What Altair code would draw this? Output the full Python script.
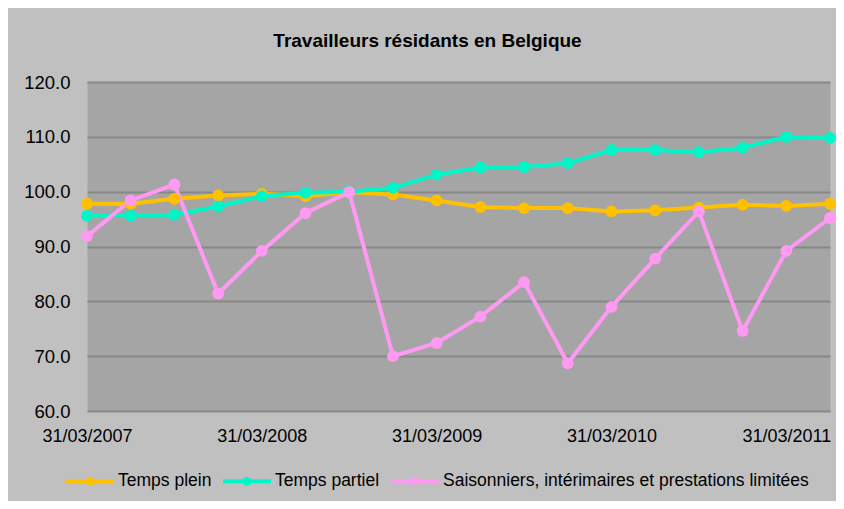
import altair as alt
import pandas as pd

quarters = ["31/03/2007", "30/06/2007", "30/09/2007", "31/12/2007",
            "31/03/2008", "30/06/2008", "30/09/2008", "31/12/2008",
            "31/03/2009", "30/06/2009", "30/09/2009", "31/12/2009",
            "31/03/2010", "30/06/2010", "30/09/2010", "31/12/2010",
            "31/03/2011", "30/06/2011"]
series_names = ["Temps plein", "Temps partiel",
                "Saisonniers, intérimaires et prestations limitées"]
temps_plein = [97.8, 97.8, 98.7, 99.3, 99.6, 99.2, 99.9, 99.5, 98.4,
               97.2, 97.0, 97.0, 96.4, 96.6, 97.1, 97.6, 97.4, 97.8]
temps_partiel = [95.6, 95.6, 95.8, 97.3, 99.2, 99.8, 100.0, 100.7, 103.1,
                 104.4, 104.5, 105.2, 107.6, 107.6, 107.2, 108.0, 110.0, 109.8]
saisonniers = [91.9, 98.4, 101.3, 81.4, 89.2, 96.1, 99.9, 70.0, 72.4,
               77.2, 83.5, 68.7, 79.0, 87.8, 96.4, 74.6, 89.2, 95.2]
colors = ["#FFC000", "#00F5C8", "#FF99F2"]
y_ticks = [60, 70, 80, 90, 100, 110, 120]
x_tick_index = [0, 4, 8, 12, 16]
title_text = "Travailleurs résidants en Belgique"

rows = []
for order, (name, vals) in enumerate(zip(series_names, [temps_plein, temps_partiel, saisonniers])):
    for i, v in enumerate(vals):
        rows.append({"idx": i, "date": quarters[i], "serie": name, "valeur": v, "ordre": order})
df = pd.DataFrame(rows)

label_array = "[" + ",".join("'" + q + "'" for q in quarters) + "]"

label_font = "Liberation Sans, Arial, sans-serif"

legend_symbol = "M-1,0H1M-0.1,0A0.1,0.1,0,1,1,0.1,0A0.1,0.1,0,1,1,-0.1,0"

chart = alt.Chart(df).mark_line(
    strokeWidth=4,
    point=alt.OverlayMarkDef(size=140, filled=True, opacity=1),
).encode(
    x=alt.X("idx:Q",
            scale=alt.Scale(domain=[0, len(quarters) - 1], nice=False, zero=False),
            axis=alt.Axis(title=None, values=x_tick_index, grid=False, domain=False,
                          ticks=False, labelPadding=16, labelFlush=False,
                          labelOverlap=False, labelFontSize=18,
                          labelExpr=label_array + "[datum.value]")),
    y=alt.Y("valeur:Q",
            scale=alt.Scale(domain=[60, 120], nice=False, zero=False),
            axis=alt.Axis(title=None, values=y_ticks, format=".1f", grid=True,
                          domain=False, ticks=False, labelPadding=17,
                          labelFontSize=18.5)),
    color=alt.Color("serie:N",
                    scale=alt.Scale(domain=series_names, range=colors),
                    legend=alt.Legend(title=None, orient="none", direction="horizontal",
                                      legendX=-23, legendY=373,
                                      symbolType=legend_symbol, symbolSize=2304,
                                      symbolStrokeWidth=4, labelOffset=2,
                                      columnPadding=3, labelLimit=600, padding=0)),
    order=alt.Order("idx:Q"),
    detail="serie:N",
).properties(
    width=743,
    height=329,
    title=alt.TitleParams(title_text, font=label_font, fontSize=19, fontWeight="bold",
                          color="#000000", anchor="middle", dx=-31, offset=22),
    autosize=alt.AutoSizeParams(type="none"),
    padding={"left": 79, "top": 74, "right": 6, "bottom": 90},
    background="#c0c0c0",
).configure_view(
    fill="#a5a5a5", stroke="transparent"
).configure_axis(
    labelFont=label_font, labelColor="#000000",
    gridColor="#888888", gridWidth=2, gridOpacity=1,
).configure_legend(
    labelFont=label_font, labelFontSize=17.5, labelColor="#000000",
)

chart.save("out.html", embed_options={"renderer": "svg", "actions": False})
